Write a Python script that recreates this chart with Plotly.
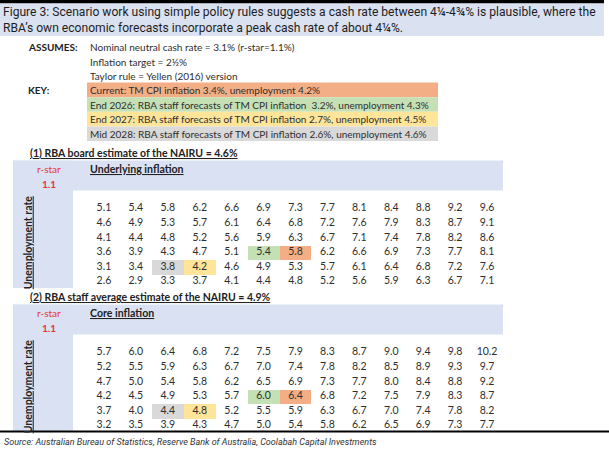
import plotly.graph_objects as go

W, H = 609, 449

# chart text and data
title_lines = [
    "Figure 3: Scenario work using simple policy rules suggests a cash rate between 4¼-4¾% is plausible, where the",
    "RBA’s own economic forecasts incorporate a peak cash rate of about 4¼%.",
]
assumes = [
    "Nominal neutral cash rate = 3.1% (r-star=1.1%)",
    "Inflation target = 2½%",
    "Taylor rule = Yellen (2016) version",
]
key_labels = [
    "Current: TM CPI inflation 3.4%, unemployment 4.2%",
    "End 2026: RBA staff forecasts of TM CPI inflation  3.2%, unemployment 4.3%",
    "End 2027: RBA staff forecasts of TM CPI inflation 2.7%, unemployment 4.5%",
    "Mid 2028: RBA staff forecasts of TM CPI inflation 2.6%, unemployment 4.6%",
]
key_colors = ["#F4AE85", "#C5E0B4", "#FFE59A", "#D9D9D9"]

inflation = ["2%", "2¼%", "2½%", "2¾%", "3%", "3¼%", "3½%", "3¾%", "4%", "4¼%", "4½%", "4¾%", "5%"]
unemployment = ["3½%", "3¾%", "4%", "4¼%", "4½%", "4¾%"]

rates_board = [
    [5.1, 5.4, 5.8, 6.2, 6.6, 6.9, 7.3, 7.7, 8.1, 8.4, 8.8, 9.2, 9.6],
    [4.6, 4.9, 5.3, 5.7, 6.1, 6.4, 6.8, 7.2, 7.6, 7.9, 8.3, 8.7, 9.1],
    [4.1, 4.4, 4.8, 5.2, 5.6, 5.9, 6.3, 6.7, 7.1, 7.4, 7.8, 8.2, 8.6],
    [3.6, 3.9, 4.3, 4.7, 5.1, 5.4, 5.8, 6.2, 6.6, 6.9, 7.3, 7.7, 8.1],
    [3.1, 3.4, 3.8, 4.2, 4.6, 4.9, 5.3, 5.7, 6.1, 6.4, 6.8, 7.2, 7.6],
    [2.6, 2.9, 3.3, 3.7, 4.1, 4.4, 4.8, 5.2, 5.6, 5.9, 6.3, 6.7, 7.1],
]
rates_staff = [
    [5.7, 6.0, 6.4, 6.8, 7.2, 7.5, 7.9, 8.3, 8.7, 9.0, 9.4, 9.8, 10.2],
    [5.2, 5.5, 5.9, 6.3, 6.7, 7.0, 7.4, 7.8, 8.2, 8.5, 8.9, 9.3, 9.7],
    [4.7, 5.0, 5.4, 5.8, 6.2, 6.5, 6.9, 7.3, 7.7, 8.0, 8.4, 8.8, 9.2],
    [4.2, 4.5, 4.9, 5.3, 5.7, 6.0, 6.4, 6.8, 7.2, 7.5, 7.9, 8.3, 8.7],
    [3.7, 4.0, 4.4, 4.8, 5.2, 5.5, 5.9, 6.3, 6.7, 7.0, 7.4, 7.8, 8.2],
    [3.2, 3.5, 3.9, 4.3, 4.7, 5.0, 5.4, 5.8, 6.2, 6.5, 6.9, 7.3, 7.7],
]
# (unemployment, inflation, key index)
highlights = [("4¼%", "3½%", 0), ("4¼%", "3¼%", 1), ("4½%", "2¾%", 2), ("4½%", "2½%", 3)]

tables = [
    dict(title="(1) RBA board estimate of the NAIRU = 4.6%", head="Underlying inflation", values=rates_board),
    dict(title="(2) RBA staff average estimate of the NAIRU = 4.9%", head="Core inflation", values=rates_staff),
]

FONT = "Lato"
TXT = "#2e2e2e"
BLUE = "#D9E1F2"


def px(x):
    return x / W


def py(y):
    return 1 - y / H


fig = go.Figure()
shapes = []
annotations = []

# top black rule and title band
shapes.append(dict(type="rect", xref="paper", yref="paper", x0=0, x1=px(604), y0=py(3.5), y1=py(0),
                   fillcolor="black", line_width=0, layer="below"))
shapes.append(dict(type="rect", xref="paper", yref="paper", x0=0, x1=px(604), y0=py(36), y1=py(3.5),
                   fillcolor="#DAE1F1", line_width=0, layer="below"))
for i, line in enumerate(title_lines):
    annotations.append(dict(text=line, xref="paper", yref="paper", x=px(1), y=py(12.5 + 16 * i),
                            xanchor="left", yanchor="middle", showarrow=False,
                            font=dict(family="Roboto", size=12.1, color="#1e1e1e")))

# assumptions
annotations.append(dict(text="<b>ASSUMES:</b>", xref="paper", yref="paper", x=px(26), y=py(47),
                        xanchor="left", yanchor="middle", showarrow=False,
                        font=dict(family=FONT, size=10, color="#222")))
for i, line in enumerate(assumes):
    annotations.append(dict(text=line, xref="paper", yref="paper", x=px(88), y=py(47 + 14.6 * i),
                            xanchor="left", yanchor="middle", showarrow=False,
                            font=dict(family=FONT, size=10, color=TXT)))

# key
annotations.append(dict(text="<b>KEY:</b>", xref="paper", yref="paper", x=px(26), y=py(90),
                        xanchor="left", yanchor="middle", showarrow=False,
                        font=dict(family=FONT, size=10, color="#222")))
for i, (lab, col) in enumerate(zip(key_labels, key_colors)):
    top = 82.6 + 14.6 * i
    shapes.append(dict(type="rect", xref="paper", yref="paper", x0=px(87), x1=px(438),
                       y0=py(top + 14.6), y1=py(top), fillcolor=col, line_width=0, layer="below"))
    annotations.append(dict(text=lab, xref="paper", yref="paper", x=px(88), y=py(top + 7.5),
                            xanchor="left", yanchor="middle", showarrow=False,
                            font=dict(family=FONT, size=10, color=TXT)))

# tables
hl_colorscale = [[0, key_colors[0]], [1 / 3, key_colors[1]], [2 / 3, key_colors[2]], [1, key_colors[3]]]
cols = list(range(len(inflation)))
rows = list(range(len(unemployment)))
tops = [153, 297]  # section title y
for t, tab in enumerate(tables):
    ax = "" if t == 0 else str(t + 1)
    y0 = tops[t]
    band_top = y0 + 7.5
    grid_top = y0 + 48.5
    grid_bot = grid_top + 14.6 * len(unemployment)

    annotations.append(dict(text="<b><u>" + tab["title"] + "</u></b>", xref="paper", yref="paper",
                            x=px(28), y=py(y0), xanchor="left", yanchor="middle", showarrow=False,
                            font=dict(family=FONT, size=10.5, color="#222")))
    shapes.append(dict(type="rect", xref="paper", yref="paper", x0=px(13), x1=px(503),
                       y0=py(band_top + 30), y1=py(band_top), fillcolor=BLUE, line_width=0, layer="below"))
    shapes.append(dict(type="rect", xref="paper", yref="paper", x0=px(13), x1=px(73),
                       y0=py(grid_bot - 1), y1=py(band_top), fillcolor=BLUE, line_width=0, layer="below"))
    annotations.append(dict(text="r-star", xref="paper", yref="paper", x=px(49), y=py(band_top + 8),
                            xanchor="center", yanchor="middle", showarrow=False,
                            font=dict(family=FONT, size=10, color="#E8333A")))
    annotations.append(dict(text="<b>1.1</b>", xref="paper", yref="paper", x=px(49), y=py(band_top + 23),
                            xanchor="center", yanchor="middle", showarrow=False,
                            font=dict(family=FONT, size=10, color="#E8333A")))
    annotations.append(dict(text="<b><u>" + tab["head"] + "</u></b>", xref="paper", yref="paper",
                            x=px(88), y=py(band_top + 8), xanchor="left", yanchor="middle", showarrow=False,
                            font=dict(family=FONT, size=10.6, color="#222")))
    annotations.append(dict(text="<b><u>Unemployment rate</u></b>", xref="paper", yref="paper",
                            x=px(28), y=py((grid_top + grid_bot) / 2 - 3), xanchor="center", yanchor="middle",
                            textangle=-90, showarrow=False,
                            font=dict(family=FONT, size=10.5, color="#222")))

    # highlight cells
    z = [[None] * len(inflation) for _ in unemployment]
    for u, inf, k in highlights:
        z[unemployment.index(u)][inflation.index(inf)] = k
    fig.add_trace(go.Heatmap(z=z, x=cols, y=rows, zmin=0, zmax=3, colorscale=hl_colorscale,
                             showscale=False, hoverinfo="skip", xaxis="x" + ax, yaxis="y" + ax))

    # cell values
    xs, ys, txt = [], [], []
    for r, row in enumerate(tab["values"]):
        for c, v in enumerate(row):
            xs.append(c)
            ys.append(r)
            txt.append(f"{v:.1f}")
    fig.add_trace(go.Scatter(x=xs, y=ys, text=txt, mode="text", textposition="middle center",
                             textfont=dict(family=FONT, size=10.5, color=TXT), cliponaxis=False,
                             hoverinfo="skip", xaxis="x" + ax, yaxis="y" + ax))
    # column headers and row labels
    fig.add_trace(go.Scatter(x=cols, y=[-1.7] * len(cols), text=inflation, mode="text",
                             textposition="middle center", cliponaxis=False, hoverinfo="skip",
                             textfont=dict(family=FONT, size=10, color=TXT), xaxis="x" + ax, yaxis="y" + ax))
    fig.add_trace(go.Scatter(x=[-1.7] * len(rows), y=rows, text=unemployment, mode="text",
                             textposition="middle center", cliponaxis=False, hoverinfo="skip",
                             textfont=dict(family=FONT, size=10, color=TXT), xaxis="x" + ax, yaxis="y" + ax))

    axis_common = dict(showgrid=False, zeroline=False, showticklabels=False, ticks="", fixedrange=True)
    fig.layout["xaxis" + ax] = dict(axis_common, domain=[px(88), px(503)], range=[-0.5, 12.5],
                                    anchor="y" + ax)
    fig.layout["yaxis" + ax] = dict(axis_common, domain=[py(grid_bot), py(grid_top)], range=[5.5, -0.5],
                                    anchor="x" + ax)

# bottom rule and source
shapes.append(dict(type="line", xref="paper", yref="paper", x0=0, x1=1, y0=py(431.5), y1=py(431.5),
                   line=dict(color="black", width=2.2)))
annotations.append(dict(text="<i>Source: Australian Bureau of Statistics, Reserve Bank of Australia, "
                             "Coolabah Capital Investments</i>", xref="paper", yref="paper", x=px(2), y=py(442),
                        xanchor="left", yanchor="middle", showarrow=False,
                        font=dict(family="Roboto", size=9, color="#333")))

fig.update_layout(width=W, height=H, margin=dict(l=0, r=0, t=0, b=0), autosize=False,
                  paper_bgcolor="white", plot_bgcolor="rgba(0,0,0,0)", showlegend=False,
                  shapes=shapes, annotations=annotations)

# page body margin would push the 609x449 figure past the window
fig.write_html("out.html", config={"displayModeBar": False},
               post_script="document.body.style.margin='0';document.body.style.overflow='hidden';")
